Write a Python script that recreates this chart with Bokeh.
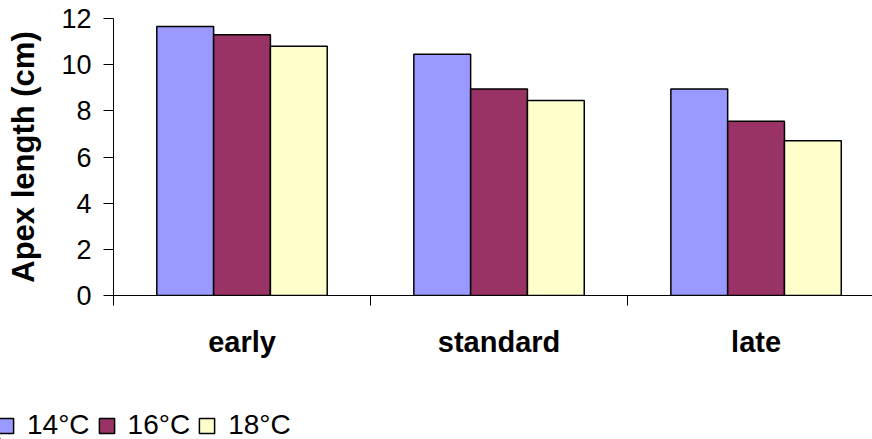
from bokeh.plotting import figure
from bokeh.models import (Range1d, FixedTicker, LinearAxis, Legend, LegendItem,
                          ColumnDataSource)
from bokeh.layouts import column, row
from bokeh.embed import file_html
from bokeh.resources import INLINE

# Apex length by sowing time and growing temperature
categories = ["early", "standard", "late"]
series_names = ["14°C", "16°C", "18°C"]
apex_14 = [11.65, 10.45, 8.95]
apex_16 = [11.3, 8.95, 7.55]
apex_18 = [10.8, 8.45, 6.7]
y_ticks = [0, 2, 4, 6, 8, 10, 12]

colors = ["#9999FF", "#993366", "#FFFFCC"]
bar_w = 0.221
offsets = [-bar_w, 0.0, bar_w]
FONT = "Liberation Sans"

p = figure(width=872, height=400, output_backend="svg", toolbar_location=None,
           x_range=Range1d(0, 2.953), y_range=Range1d(0, 12),
           min_border_left=113, min_border_right=0, min_border_top=18,
           min_border_bottom=105, x_axis_type=None, y_axis_type=None)
p.outline_line_color = None
p.xgrid.visible = False
p.ygrid.visible = False
p.background_fill_color = "white"
p.border_fill_color = "white"

sources = []
for vals, col, off in zip([apex_14, apex_16, apex_18], colors, offsets):
    src = ColumnDataSource(dict(x=[i + 0.5 + off for i in range(len(categories))],
                                top=vals))
    sources.append(src)
    p.vbar(x="x", top="top", width=bar_w, bottom=0, source=src,
           fill_color=col, line_color="black", line_width=1.5)

# y axis
yax = LinearAxis(ticker=FixedTicker(ticks=y_ticks, minor_ticks=[]))
yax.axis_label = "Apex length (cm)"
yax.axis_label_text_font = FONT
yax.axis_label_text_font_style = "bold"
yax.axis_label_text_font_size = "31px"
yax.axis_label_text_color = "black"
yax.axis_label_standoff = 17
yax.major_label_text_font = FONT
yax.major_label_text_font_size = "27px"
yax.major_label_text_color = "black"
yax.major_label_standoff = 12
yax.major_tick_in = 0
yax.major_tick_out = 10
yax.axis_line_color = "black"
yax.major_tick_line_color = "black"
p.add_layout(yax, "left")

# x axis: category labels at group centres, boundary ticks as minor ticks
xax = LinearAxis(ticker=FixedTicker(ticks=[0.5, 1.5, 2.5], minor_ticks=[0, 1, 2, 3]))
xax.major_label_overrides = {0.5: categories[0], 1.5: categories[1], 2.5: categories[2]}
xax.major_label_text_font = FONT
xax.major_label_text_font_style = "bold"
xax.major_label_text_font_size = "29px"
xax.major_label_text_color = "black"
xax.major_label_standoff = 20
xax.major_tick_in = 0
xax.major_tick_out = 0
xax.minor_tick_in = 0
xax.minor_tick_out = 10
xax.minor_tick_line_color = "black"
xax.axis_line_color = "black"
p.add_layout(xax, "below")

# legend strip underneath the chart; its key renderers share the bar sources
# but sit well outside this strip's visible ranges
lg = figure(width=872, height=39, output_backend="svg", toolbar_location=None,
            x_range=Range1d(100, 101), y_range=Range1d(100, 101),
            min_border=0, min_border_left=0, min_border_right=0,
            min_border_top=0, min_border_bottom=0,
            x_axis_type=None, y_axis_type=None)
lg.outline_line_color = None
lg.xgrid.visible = False
lg.ygrid.visible = False
lg.border_fill_color = "white"
lg.background_fill_color = "white"
keys = []
for src, col in zip(sources, colors):
    keys.append(lg.vbar(x="x", top="top", width=bar_w, bottom=0, source=src,
                        fill_color=col, line_color="black", line_width=1.5))

legend = Legend(items=[LegendItem(label=n, renderers=[r]) for n, r in zip(series_names, keys)],
                orientation="horizontal", location=(-4, -2),
                glyph_width=19, glyph_height=19, label_standoff=12, spacing=7,
                padding=0, margin=0, border_line_color=None,
                background_fill_alpha=0,
                label_text_font=FONT, label_text_font_size="28px",
                label_text_color="black")
lg.add_layout(legend, "center")

layout = column(p, row(lg, spacing=0), spacing=0)
open("out.html", "w").write(file_html(layout, INLINE))
